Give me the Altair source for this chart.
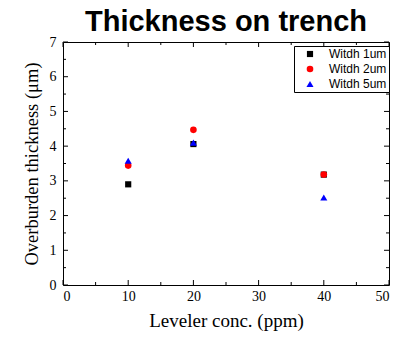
import altair as alt
import pandas as pd

title_text = "Thickness on trench"
x_title = "Leveler conc. (ppm)"
y_title = "Overburden thickness (μm)"

series = ["Witdh 1um", "Witdh 2um", "Witdh 5um"]
conc = [10, 20, 40]
w1 = [2.90, 4.06, 3.18]
w2 = [3.44, 4.47, 3.18]
w5 = [3.58, 4.10, 2.52]

x_major = [0, 10, 20, 30, 40, 50]
x_minor = [5, 15, 25, 35, 45]
y_major = [0, 1, 2, 3, 4, 5, 6, 7]
y_minor = [0.5, 1.5, 2.5, 3.5, 4.5, 5.5, 6.5]

rows = []
for name, vals in zip(series, [w1, w2, w5]):
    for c, v in zip(conc, vals):
        rows.append({"conc": c, "thick": v, "series": name})
df = pd.DataFrame(rows)

W, H = 326, 243
MAJ, MIN = 5, 3

xs = alt.Scale(domain=[0, 50], nice=False, zero=False)
ys = alt.Scale(domain=[0, 7], nice=False, zero=False)

SERIF = "Liberation Serif"
SANS = "Liberation Sans"

x_axis = alt.Axis(values=x_major, ticks=False, domain=False, grid=False,
                  labelFont=SERIF, labelFontSize=14, labelColor="black",
                  labelPadding=4, titleFont=SERIF, titleFontSize=19,
                  titleFontWeight="normal", titleColor="black", titlePadding=8)
y_axis = alt.Axis(values=y_major, ticks=False, domain=False, grid=False,
                  labelFont=SERIF, labelFontSize=14, labelColor="black",
                  labelPadding=7, titleFont=SERIF, titleFontSize=18.5,
                  titleFontWeight="normal", titleColor="black", titlePadding=8)

leg = dict(title=None, orient="none", legendX=231, legendY=4,
           strokeColor="black", padding=2, fillColor="white",
           labelFont=SANS, labelFontSize=12, labelColor="black",
           symbolOffset=8, labelOffset=13, rowPadding=3, symbolStrokeWidth=0)


def series_layer(name):
    return alt.Chart(df).transform_filter(alt.datum.series == name).mark_point(
        filled=True, opacity=1).encode(
        x=alt.X("conc:Q", scale=xs, title=x_title, axis=x_axis),
        y=alt.Y("thick:Q", scale=ys, title=y_title, axis=y_axis),
        color=alt.Color("series:N", scale=alt.Scale(domain=series, range=["black", "red", "blue"]),
                        legend=alt.Legend(**leg)),
        shape=alt.Shape("series:N", scale=alt.Scale(domain=series, range=["square", "circle", "triangle-up"]),
                        legend=alt.Legend(**leg)),
        size=alt.Size("series:N", scale=alt.Scale(domain=series, range=[38, 50, 58]),
                      legend=alt.Legend(**leg)),
    )


def xticks(vals, length):
    d = pd.DataFrame({"v": vals})
    bottom = alt.Chart(d).mark_rule(color="black", strokeWidth=1).encode(
        x=alt.X("v:Q", scale=xs, title=x_title, axis=x_axis),
        y=alt.value(H), y2=alt.value(H - length))
    top = alt.Chart(d).mark_rule(color="black", strokeWidth=1).encode(
        x=alt.X("v:Q", scale=xs, title=x_title, axis=x_axis),
        y=alt.value(0), y2=alt.value(length))
    return [bottom, top]


def yticks(vals, length):
    d = pd.DataFrame({"v": vals})
    left = alt.Chart(d).mark_rule(color="black", strokeWidth=1).encode(
        y=alt.Y("v:Q", scale=ys, title=y_title, axis=y_axis),
        x=alt.value(0), x2=alt.value(length))
    right = alt.Chart(d).mark_rule(color="black", strokeWidth=1).encode(
        y=alt.Y("v:Q", scale=ys, title=y_title, axis=y_axis),
        x=alt.value(W), x2=alt.value(W - length))
    return [left, right]


title_layer = alt.Chart(pd.DataFrame({"t": [title_text]})).mark_text(
    font=SANS, fontSize=29, fontWeight="bold", color="black",
    align="center", baseline="alphabetic").encode(
    x=alt.value(W / 2), y=alt.value(-11), text="t:N")

layers = (xticks(x_major, MAJ) + xticks(x_minor, MIN) +
          yticks(y_major, MAJ) + yticks(y_minor, MIN) +
          [series_layer(s) for s in series] + [title_layer])

chart = alt.layer(*layers).properties(
    width=W, height=H,
    autosize=alt.AutoSizeParams(type="none"),
    padding={"left": 63, "top": 42, "right": 9, "bottom": 52},
).configure_view(stroke="black", strokeWidth=1)

chart.save("out.html", embed_options={"renderer": "svg", "actions": False})
